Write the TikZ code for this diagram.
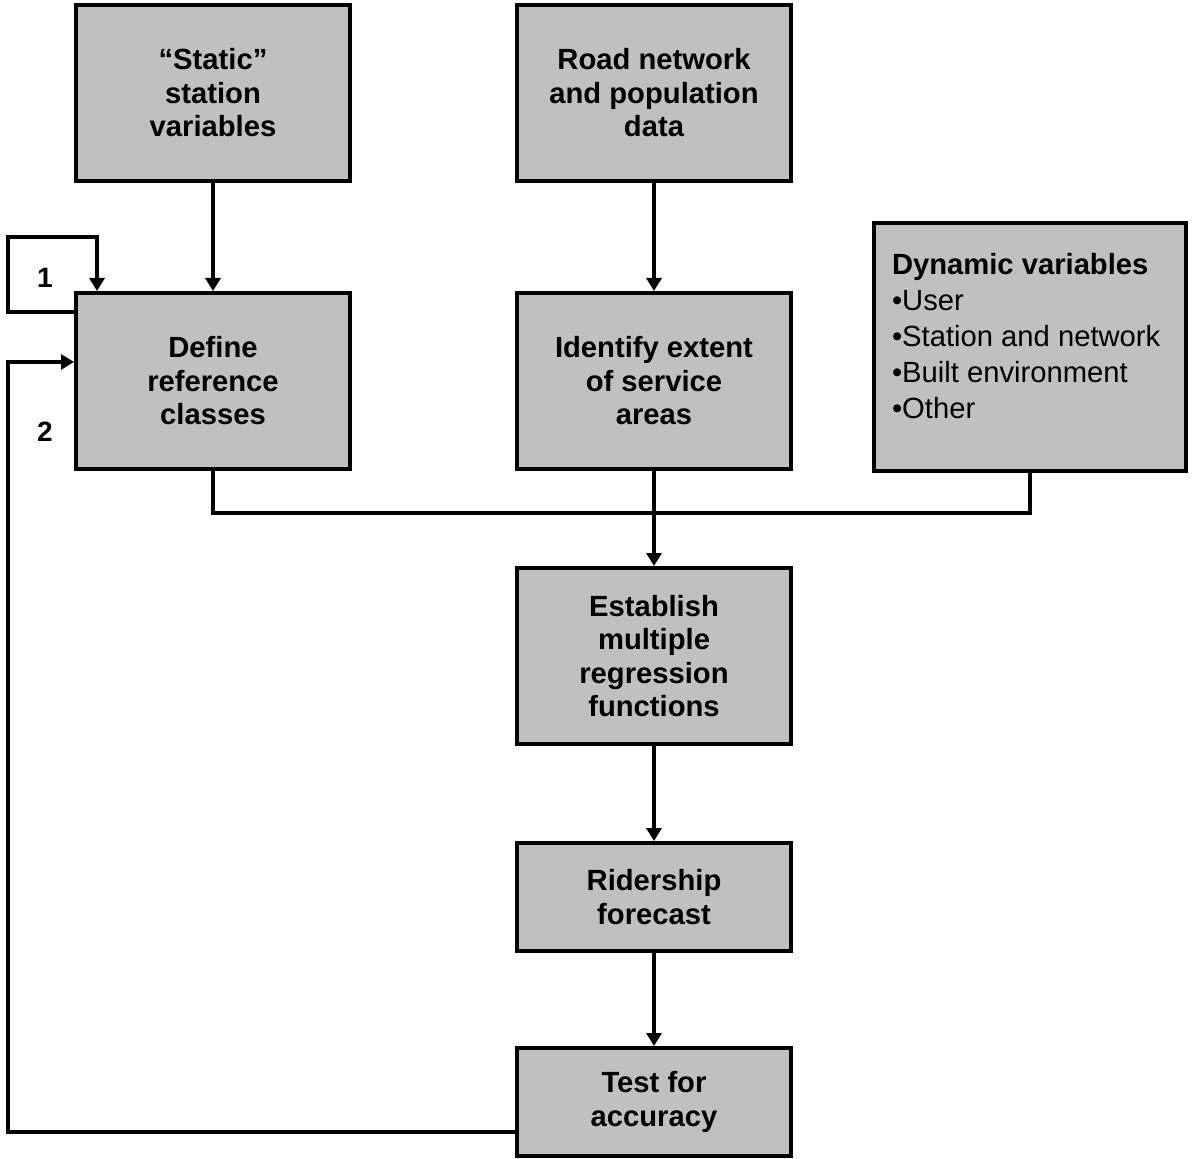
\documentclass[tikz,border=0pt]{standalone}
\usepackage{fontspec}
\setmainfont{Liberation Sans}
\usepackage{tikz}
\usetikzlibrary{shapes,arrows.meta}
\usetikzlibrary{calc}
\usetikzlibrary{positioning}
\definecolor{boxgray}{RGB}{192,192,192}
\tikzstyle{block} = [draw, fill=boxgray, rectangle, align=center,
    font=\bfseries\fontsize{14.6}{16.75}\selectfont,
    minimum height=88pt, minimum width=137pt]
\tikzstyle{shortblock} = [block, minimum height=54pt]
\tikzstyle{listblock} = [draw, fill=boxgray, rectangle,
    minimum height=124pt, minimum width=156pt]
\tikzstyle{listtext} = [align=left, inner sep=0pt,
    font=\fontsize{14.6}{18}\selectfont]
\tikzstyle{num} = [font=\bfseries\fontsize{14}{16}\selectfont]

\begin{document}
\begin{tikzpicture}[x=0.5pt, y=-0.5pt, line width=2pt,
    >={Triangle[length=6.5pt,width=7.5pt]}]

    \useasboundingbox (0,0) rectangle (1192,1159);

    \node[block] at (213,93) (static) {``Static''\\station\\variables};
    \node[block] at (654,93) (road) {Road network\\and population\\data};
    \node[block] at (213,381) (define) {Define\\reference\\classes};
    \node[block] at (654,381) (identify) {Identify extent\\of service\\areas};
    \node[listblock] at (1030,347) (dynamic) {};
    \node[listtext, anchor=north west] at ($(dynamic.north west)+(18,30)$) (dyntext)
        {\textbf{Dynamic variables}\\•User\\•Station and network\\•Built environment\\•Other};
    \node[block] at (654,656) (establish) {Establish\\multiple\\regression\\functions};
    \node[shortblock] at (654,897) (forecast) {Ridership\\forecast};
    \node[shortblock] at (654,1102) (test) {Test for\\accuracy};

    \draw[->] (static) -- (define);
    \draw[->] (road) -- (identify);

    % merge of the three inputs
    \coordinate (merge) at (654,513);
    \draw (define.south) |- (merge);
    \draw (dynamic.south) |- (merge);
    \draw[->] (identify) -- (establish);
    \draw[->] (establish) -- (forecast);
    \draw[->] (forecast) -- (test);

    % feedback loops
    \coordinate (loop1) at (8,237);
    \coordinate (loop2) at (8,362);
    \draw[->] ($(define.north west)+(0,21)$) -| (loop1) -| ($(define.north west)+(23,0)$);
    \draw[->] ($(test.west)+(0,30)$) -| (loop2) -- (define.west |- loop2);
    \node[num] at (45,278) (one) {1};
    \node[num] at (45,432) (two) {2};
\end{tikzpicture}
\end{document}
